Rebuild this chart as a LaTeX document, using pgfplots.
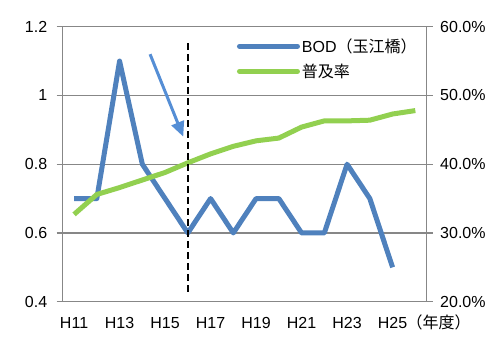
\documentclass[border=0pt]{standalone}
\usepackage{fontspec}
\setmainfont{Liberation Sans}
\newfontfamily\jp{Noto Sans CJK JP}
\usepackage{pgfplots}
\usepackage{pgfplotstable}
\pgfplotsset{compat=1.18}
\usetikzlibrary{arrows.meta,calc}

\definecolor{bodblue}{HTML}{4F81BD}
\definecolor{rategreen}{HTML}{92D050}
\definecolor{arrowblue}{HTML}{558ED5}
\definecolor{gridgray}{HTML}{878787}

% BOD at Tamae bridge (mg/L), fiscal years H11--H25
\pgfplotstableread{
x bod
0 0.7
1 0.7
2 1.1
3 0.8
4 0.7
5 0.6
6 0.7
7 0.6
8 0.7
9 0.7
10 0.6
11 0.6
12 0.8
13 0.7
14 0.5
}\bodtable

% sewer coverage rate (%), fiscal years H11--H26
\pgfplotstableread{
x rate
0 32.7
1 35.6
2 36.6
3 37.7
4 38.8
5 40.2
6 41.5
7 42.6
8 43.4
9 43.8
10 45.4
11 46.3
12 46.3
13 46.4
14 47.3
15 47.8
}\ratetable

\pgfplotsset{
  common/.style={
    scale only axis, width=364pt, height=275pt,
    xmin=-0.5, xmax=15.5,
    font=\fontsize{16pt}{19pt}\selectfont,
    tick align=outside,
    axis line style={gridgray, line width=1.3pt},
    every tick/.style={gridgray, line width=1.2pt},
    major tick length=6pt,
    minor tick length=4pt,
  },
}

\begin{document}
\begin{tikzpicture}
\begin{axis}[
  common,
  ymin=0.4, ymax=1.2,
  ytick={0.4,0.6,...,1.2},
  yticklabels={0.4,0.6,0.8,1,1.2},
  yticklabel style={xshift=-6pt},
  ytick pos=left,
  xtick pos=lower,
  xtick={0,2,...,14},
  xticklabels={H11,H13,H15,H17,H19,H21,H23,H25},
  xticklabel style={yshift=-6pt},
  xtick style={draw=none},
  minor xtick={-0.5,0.5,...,15.5},
  ymajorgrids,
  grid style={gridgray, line width=1.2pt},
  legend cell align=left,
  legend style={at={(rel axis cs:0.47,0.972)}, anchor=north west,
    draw=none, fill=none, row sep=6pt,
    nodes={inner sep=2pt}},
  legend image code/.code={\draw[#1, line cap=round] (0pt,0pt) -- (58pt,0pt);},
]
\addplot[bodblue, line width=5pt, line join=round] table[x=x, y=bod] {\bodtable};
\addlegendentry{BOD{\jp （玉江橋）}}
\addlegendimage{rategreen, line width=5pt}
\addlegendentry{{\jp 普及率}}
\coordinate (bl) at (rel axis cs:0,0);
\coordinate (tr) at (rel axis cs:1,1);
\end{axis}

\begin{axis}[
  common,
  ymin=20, ymax=60,
  ytick={20,30,...,60},
  yticklabels={20.0\%,30.0\%,40.0\%,50.0\%,60.0\%},
  yticklabel style={xshift=4pt},
  axis y line*=right,
  axis x line=none,
]
\addplot[rategreen, line width=5pt, line join=round] table[x=x, y=rate] {\ratetable};
% boundary year marker (H16)
\addplot[black, line width=2pt, dash pattern=on 7pt off 4pt] coordinates {(5,21.45) (5,57.9)};
% downward trend arrow
\addplot[arrowblue, line width=3pt, -{Triangle[length=15pt,width=13pt]}] coordinates {(3.34,56.0) (4.80,44.0)};
\end{axis}

\node[anchor=base, font=\fontsize{16pt}{19pt}\selectfont\jp] at ($(bl -| tr)+(12pt,-26.6pt)$) {（年度）};

\pgfresetboundingbox
\path ($(bl)+(-62.7pt,-40.3pt)$) rectangle ($(tr)+(67.3pt,26.7pt)$);
\end{tikzpicture}
\end{document}
